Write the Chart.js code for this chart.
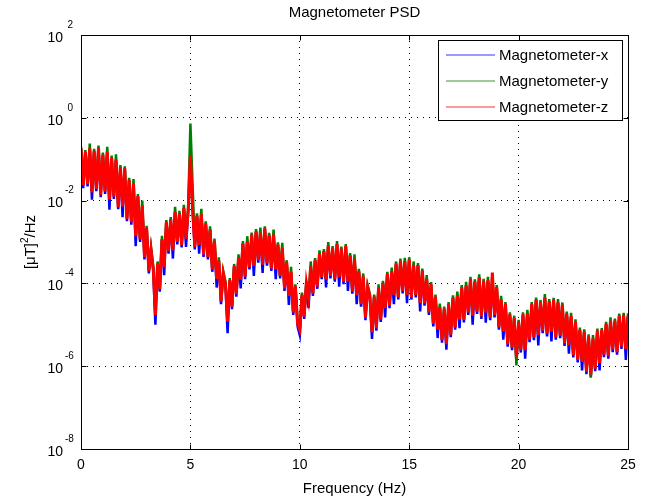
<!DOCTYPE html>
<html>
<head>
<meta charset="utf-8">
<script src="https://cdn.jsdelivr.net/npm/chart.js@4.4.1/dist/chart.umd.min.js"></script>
<style>
    html, body { margin: 0; padding: 0; background: #fff; }
    #wrap { width: 645px; height: 499px; }
</style>
</head>
<body>
<div id="wrap"><canvas id="psdChart" width="645" height="499"></canvas></div>
<script>
// PSD sample spacing (Hz) - one value every 0.1 Hz from 0 to 25 Hz
const freqStep = 0.1;

// log10 of the PSD, [uT]^2/Hz (10 values per Hz)
const magXLog = [
    -0.76,-1.70,-0.85,-1.66,-0.76,-1.98,-0.82,-1.77,-0.74,-1.92,
    -0.91,-1.84,-0.84,-2.22,-0.98,-1.96,-1.03,-2.21,-1.21,-2.40,
    -1.24,-2.50,-1.52,-2.58,-1.62,-3.10,-1.91,-3.00,-2.14,-3.42,
    -2.68,-3.76,-3.20,-3.66,-5.00,-3.54,-4.20,-2.95,-3.80,-2.54,
    -3.28,-2.47,-3.40,-2.29,-3.06,-2.32,-3.13,-2.20,-3.12,-2.26,
    -0.95,-2.22,-3.18,-2.38,-3.28,-2.35,-3.36,-2.57,-3.42,-2.72,
    -3.72,-2.99,-4.10,-3.47,-4.50,-3.77,-4.02,-5.20,-3.94,-4.62,
    -3.60,-4.32,-3.39,-4.12,-3.05,-3.90,-3.01,-3.66,-2.84,-3.82,
    -2.76,-3.50,-2.79,-3.75,-2.69,-3.57,-2.85,-3.70,-2.84,-3.90,
    -3.08,-3.88,-3.16,-4.18,-3.51,-4.52,-3.74,-4.76,-4.09,-5.04,
    -5.25,-4.29,-4.86,-4.01,-4.60,-3.61,-4.30,-3.46,-4.13,-3.31,
    -3.90,-3.24,-4.10,-3.11,-3.88,-3.17,-3.96,-3.07,-4.08,-3.18,
    -4.02,-3.12,-4.18,-3.34,-4.25,-3.42,-4.50,-3.72,-4.56,-3.85,
    -4.89,-4.11,-4.32,-5.34,-4.34,-5.14,-4.12,-4.93,-4.01,-4.82,
    -3.79,-4.60,-3.72,-4.50,-3.54,-4.39,-3.47,-4.24,-3.48,-4.48,
    -3.44,-4.39,-3.57,-4.34,-3.58,-4.68,-3.71,-4.54,-3.91,-4.76,
    -4.04,-5.04,-4.34,-5.32,-4.59,-5.43,-4.63,-5.60,-4.52,-5.30,
    -4.36,-5.12,-4.31,-5.08,-4.11,-4.94,-4.07,-4.76,-3.91,-5.00,
    -3.97,-4.74,-3.87,-4.86,-3.96,-4.95,-3.94,-4.89,-3.90,-4.82,
    -4.11,-5.12,-4.40,-5.36,-4.52,-5.53,-4.77,-5.61,-4.85,-5.86,
    -4.95,-5.67,-4.77,-5.82,-4.74,-5.42,-4.52,-5.37,-4.41,-5.50,
    -4.47,-5.20,-4.36,-5.28,-4.45,-5.40,-4.42,-5.36,-4.48,-5.32,
    -4.53,-5.51,-4.75,-5.70,-4.81,-5.79,-4.94,-5.91,-5.14,-6.10,
    -5.18,-6.19,-5.30,-6.26,-5.35,-6.12,-5.16,-6.10,-5.15,-5.78,
    -5.00,-5.82,-4.92,-5.66,-4.92,-5.72,-4.80,-5.58,-4.78,-5.85,
    -4.81
];

const magYLog = [
    -0.69,-1.61,-0.78,-1.58,-0.62,-1.78,-0.75,-1.70,-0.67,-1.84,
    -0.84,-1.76,-0.70,-1.95,-0.91,-1.88,-0.88,-2.14,-1.14,-2.12,
    -1.17,-2.42,-1.45,-2.50,-1.48,-2.84,-1.84,-2.92,-2.00,-3.34,
    -2.61,-3.68,-3.13,-3.59,-4.70,-3.47,-4.12,-2.85,-3.58,-2.47,
    -3.20,-2.40,-3.18,-2.15,-2.98,-2.25,-3.05,-2.10,-2.90,-2.12,
    -0.14,-1.62,-3.10,-2.31,-3.05,-2.20,-3.28,-2.50,-3.34,-2.62,
    -3.64,-2.92,-3.88,-3.37,-4.42,-3.70,-3.95,-4.90,-3.87,-4.54,
    -3.53,-4.24,-3.30,-3.89,-2.98,-3.82,-2.86,-3.58,-2.77,-3.56,
    -2.69,-3.42,-2.65,-3.53,-2.62,-3.49,-2.78,-3.62,-2.70,-3.64,
    -3.01,-3.80,-3.02,-4.10,-3.44,-4.28,-3.60,-4.68,-4.02,-4.96,
    -5.10,-4.22,-4.78,-3.94,-4.34,-3.47,-4.22,-3.39,-4.05,-3.20,
    -3.82,-3.17,-3.89,-3.00,-3.80,-3.10,-3.88,-2.98,-3.82,-3.11,
    -3.94,-3.05,-3.93,-3.27,-4.17,-3.30,-4.27,-3.65,-4.48,-3.76,
    -4.81,-4.04,-4.25,-5.16,-4.27,-5.06,-4.02,-4.85,-3.94,-4.58,
    -3.72,-4.52,-3.62,-4.26,-3.47,-4.31,-3.40,-4.16,-3.38,-4.26,
    -3.37,-4.31,-3.47,-4.26,-3.51,-4.45,-3.64,-4.46,-3.80,-4.68,
    -3.97,-4.96,-4.27,-5.10,-4.49,-5.35,-4.56,-5.45,-4.45,-5.22,
    -4.29,-5.04,-4.20,-4.85,-4.04,-4.86,-3.96,-4.68,-3.84,-4.76,
    -3.90,-4.66,-3.78,-4.78,-3.89,-4.68,-3.84,-4.81,-3.80,-4.74,
    -4.04,-5.04,-4.30,-5.14,-4.45,-5.45,-4.70,-5.53,-4.78,-5.98,
    -4.88,-5.59,-4.70,-5.59,-4.64,-5.34,-4.45,-5.29,-4.34,-5.23,
    -4.40,-5.12,-4.26,-5.20,-4.38,-5.14,-4.35,-5.28,-4.38,-5.24,
    -4.46,-5.43,-4.68,-5.47,-4.71,-5.71,-4.87,-5.83,-5.07,-5.87,
    -5.11,-6.11,-5.23,-6.28,-5.25,-6.04,-5.09,-5.90,-5.08,-5.70,
    -4.93,-5.74,-4.82,-5.58,-4.85,-5.64,-4.73,-5.50,-4.71,-5.57,
    -4.72
];

const magZLog = [
    -0.74,-1.63,-0.83,-1.60,-0.74,-1.80,-0.80,-1.72,-0.72,-1.86,
    -0.89,-1.78,-0.82,-1.97,-0.96,-1.90,-1.01,-2.16,-1.19,-2.14,
    -1.22,-2.44,-1.50,-2.52,-1.60,-2.86,-1.89,-2.94,-2.12,-3.36,
    -2.66,-3.70,-3.18,-3.64,-4.76,-3.52,-4.14,-2.93,-3.60,-2.52,
    -3.22,-2.45,-3.20,-2.27,-3.00,-2.30,-3.07,-2.18,-2.92,-2.24,
    -0.90,-2.20,-3.12,-2.36,-3.07,-2.33,-3.30,-2.55,-3.36,-2.70,
    -3.66,-2.97,-3.90,-3.45,-4.44,-3.75,-4.00,-4.92,-3.92,-4.56,
    -3.58,-4.26,-3.37,-3.91,-3.03,-3.84,-2.99,-3.60,-2.82,-3.58,
    -2.74,-3.44,-2.77,-3.55,-2.67,-3.51,-2.83,-3.64,-2.82,-3.66,
    -3.06,-3.82,-3.14,-4.12,-3.49,-4.30,-3.72,-4.70,-4.07,-4.98,
    -5.12,-4.27,-4.80,-3.99,-4.36,-3.59,-4.24,-3.44,-4.07,-3.29,
    -3.84,-3.22,-3.91,-3.09,-3.82,-3.15,-3.90,-3.05,-3.84,-3.16,
    -3.96,-3.10,-3.95,-3.32,-4.19,-3.40,-4.29,-3.70,-4.50,-3.83,
    -4.83,-4.09,-4.30,-5.18,-4.32,-5.08,-4.10,-4.87,-3.99,-4.60,
    -3.77,-4.54,-3.70,-4.28,-3.52,-4.33,-3.45,-4.18,-3.46,-4.28,
    -3.42,-4.33,-3.55,-4.28,-3.56,-4.47,-3.69,-4.48,-3.89,-4.70,
    -4.02,-4.98,-4.32,-5.12,-4.57,-5.37,-4.61,-5.47,-4.50,-5.24,
    -4.34,-5.06,-4.29,-4.87,-4.09,-4.88,-4.05,-4.70,-3.89,-4.78,
    -3.95,-4.68,-3.85,-4.80,-3.94,-4.70,-3.92,-4.83,-3.74,-4.76,
    -4.09,-5.06,-4.38,-5.16,-4.50,-5.47,-4.75,-5.55,-4.83,-5.80,
    -4.93,-5.61,-4.75,-5.61,-4.72,-5.36,-4.50,-5.31,-4.39,-5.25,
    -4.45,-5.14,-4.34,-5.22,-4.43,-5.16,-4.40,-5.30,-4.46,-5.26,
    -4.51,-5.45,-4.73,-5.49,-4.79,-5.73,-4.92,-5.85,-5.12,-5.89,
    -5.16,-6.13,-5.28,-6.20,-5.33,-6.06,-5.14,-5.92,-5.13,-5.72,
    -4.98,-5.76,-4.90,-5.60,-4.90,-5.66,-4.78,-5.52,-4.76,-5.59,
    -4.79
];

const seriesNames = ['Magnetometer-x', 'Magnetometer-y', 'Magnetometer-z'];
const seriesColors = ['#0000ff', '#008000', '#ff0000'];
const xTickValues = [0, 5, 10, 15, 20, 25];
const yTickExps = [-8, -6, -4, -2, 0, 2];

const FONT = "'Liberation Sans', Arial, Helvetica, sans-serif";

function toPoints(logs) {
    return logs.map((v, i) => ({ x: +(i * freqStep).toFixed(1), y: Math.pow(10, v) }));
}

// 범례 그리기
function drawLegend(ctx) {
    const bx = 438.5, by = 40.5, bw = 184, bh = 80;
    ctx.save();
    ctx.setLineDash([]);
    ctx.fillStyle = '#ffffff';
    ctx.fillRect(bx, by, bw, bh);
    ctx.lineWidth = 1;
    ctx.strokeStyle = '#000000';
    ctx.strokeRect(bx, by, bw, bh);
    ctx.restore();

    seriesNames.forEach((name, i) => {
        const ly = 55 + i * 26;
        ctx.save();
        ctx.setLineDash([]);
        ctx.lineWidth = 1.2;
        ctx.strokeStyle = seriesColors[i];
        ctx.globalAlpha = 0.8;
        ctx.beginPath();
        ctx.moveTo(446, ly);
        ctx.lineTo(495, ly);
        ctx.stroke();
        ctx.restore();

        ctx.save();
        ctx.fillStyle = '#000000';
        ctx.font = '15px ' + FONT;
        ctx.textAlign = 'left';
        ctx.textBaseline = 'middle';
        ctx.fillText(name, 499, ly + 0.5);
        ctx.restore();
    });
}

// 축, 눈금, 제목 그리기
const psdDecor = {
    id: 'psdDecor',
    afterDraw(chart) {
        const ctx = chart.ctx;
        const a = chart.chartArea;
        const xs = chart.scales.x;
        const ys = chart.scales.y;
        const L = Math.round(a.left) + 0.5, R = Math.round(a.right) + 0.5;
        const T = Math.round(a.top) + 0.5, B = Math.round(a.bottom) + 0.5;

        ctx.save();
        ctx.strokeStyle = '#000';
        ctx.lineWidth = 1;
        ctx.setLineDash([]);
        ctx.strokeRect(L, T, R - L, B - T);

        // inner ticks
        ctx.beginPath();
        xTickValues.forEach(v => {
            const px = Math.round(xs.getPixelForValue(v)) + 0.5;
            ctx.moveTo(px, B); ctx.lineTo(px, B - 5);
            ctx.moveTo(px, T); ctx.lineTo(px, T + 5);
        });
        yTickExps.forEach(e => {
            const py = Math.round(ys.getPixelForValue(Math.pow(10, e))) + 0.5;
            ctx.moveTo(L, py); ctx.lineTo(L + 5, py);
            ctx.moveTo(R, py); ctx.lineTo(R - 5, py);
        });
        ctx.stroke();

        ctx.fillStyle = '#000';
        // x tick labels
        ctx.font = '14px ' + FONT;
        ctx.textAlign = 'center';
        ctx.textBaseline = 'middle';
        xTickValues.forEach(v => {
            ctx.fillText(String(v), xs.getPixelForValue(v), a.bottom + 16);
        });

        // y tick labels 10^n
        yTickExps.forEach(e => {
            const py = ys.getPixelForValue(Math.pow(10, e));
            ctx.font = '14px ' + FONT;
            ctx.textAlign = 'right';
            ctx.fillText('10', 63, py + 3);
            ctx.font = '10px ' + FONT;
            ctx.textAlign = 'left';
            ctx.fillText(String(e), e < 0 ? 65 : 67.5, py - 10);
        });

        // title, x label
        const cx = (a.left + a.right) / 2;
        ctx.font = '15px ' + FONT;
        ctx.textAlign = 'center';
        ctx.fillText('Magnetometer PSD', cx, 13);
        ctx.fillText('Frequency (Hz)', cx, 489);

        // y label [μT]²/Hz
        ctx.save();
        ctx.translate(31, (a.top + a.bottom) / 2);
        ctx.rotate(-Math.PI / 2);
        ctx.textAlign = 'left';
        ctx.font = '15px ' + FONT;
        const p1 = '[\u03bcT]', p3 = '/Hz';
        const w1 = ctx.measureText(p1).width, w3 = ctx.measureText(p3).width;
        ctx.font = '10px ' + FONT;
        const w2 = ctx.measureText('2').width;
        const x0 = -(w1 + w2 + w3) / 2;
        ctx.font = '15px ' + FONT;
        ctx.fillText(p1, x0, 0);
        ctx.font = '10px ' + FONT;
        ctx.fillText('2', x0 + w1, -6);
        ctx.font = '15px ' + FONT;
        ctx.fillText(p3, x0 + w1 + w2, 0);
        ctx.restore();
        ctx.restore();

        drawLegend(ctx);
    }
};

const psdChart = new Chart(document.getElementById('psdChart'), {
    type: 'line',
    data: {
        datasets: [
            { label: seriesNames[0], data: toPoints(magXLog), borderColor: seriesColors[0], borderWidth: 2.5, order: 2 },
            { label: seriesNames[1], data: toPoints(magYLog), borderColor: seriesColors[1], borderWidth: 2.5, order: 1 },
            { label: seriesNames[2], data: toPoints(magZLog), borderColor: seriesColors[2], borderWidth: 3, order: 0 }
        ]
    },
    options: {
        responsive: false,
        animation: false,
        devicePixelRatio: 1,
        layout: { padding: { left: 81, right: 17, top: 35, bottom: 50 } },
        elements: {
            point: { radius: 0 },
            line: { tension: 0, borderJoinStyle: 'miter' }
        },
        plugins: {
            legend: { display: false },
            title: { display: false },
            tooltip: { enabled: false }
        },
        scales: {
            x: {
                type: 'linear',
                min: 0,
                max: 25,
                afterBuildTicks: s => { s.ticks = xTickValues.map(v => ({ value: v })); },
                ticks: { display: false },
                grid: { color: '#000', lineWidth: 1, drawTicks: false },
                border: { display: false, dash: [1, 5] }
            },
            y: {
                type: 'logarithmic',
                min: 1e-8,
                max: 1e2,
                afterBuildTicks: s => { s.ticks = yTickExps.map(e => ({ value: Math.pow(10, e) })); },
                ticks: { display: false },
                grid: { color: '#000', lineWidth: 1, drawTicks: false },
                border: { display: false, dash: [1, 5] }
            }
        }
    },
    plugins: [psdDecor]
});
</script>
</body>
</html>
